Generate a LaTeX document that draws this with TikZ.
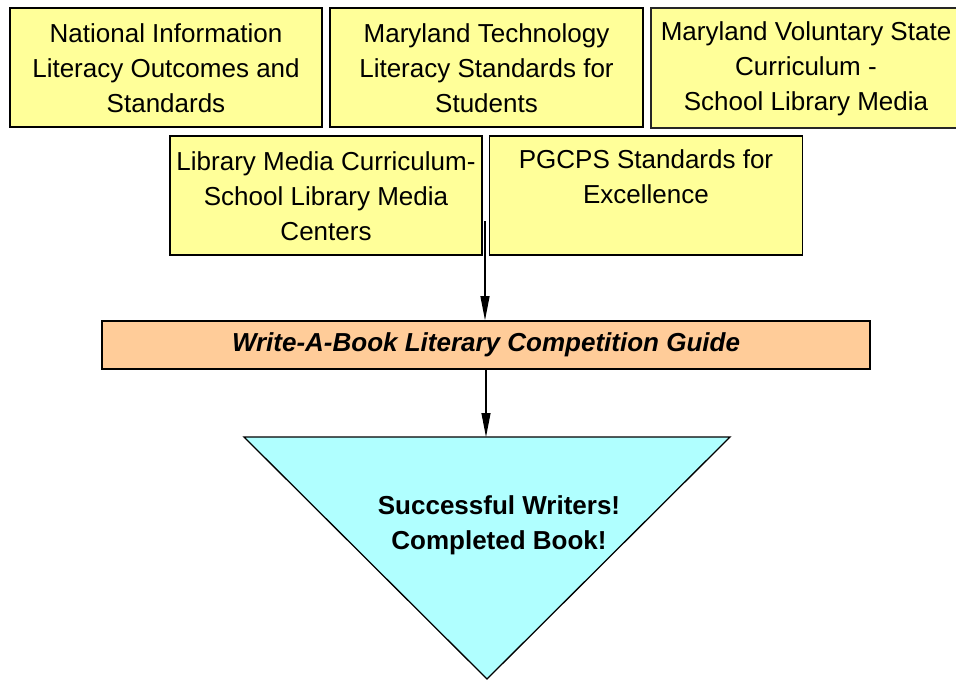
\documentclass[tikz,border=0pt]{standalone}
\usepackage{fontspec}
\setmainfont{Liberation Sans}
\usetikzlibrary{arrows.meta}
\definecolor{paleyellow}{HTML}{FFFF99}
\definecolor{paleorange}{HTML}{FFCC99}
\definecolor{palecyan}{HTML}{B0FFFF}
\begin{document}
\begin{tikzpicture}[x=1pt,y=-1pt,
  stdbox/.style={draw=black,line width=1.6pt,fill=paleyellow,inner sep=0pt,
    minimum width=#1,minimum height=119pt},
  stdtext/.style={align=center,inner sep=0pt,font=\fontsize{26}{35}\selectfont},
  flow/.style={line width=1.1pt,-{Triangle[length=24pt,width=9pt]}}]
\useasboundingbox (0,0) rectangle (956,681);
% source documents, first row
\node[stdbox=312pt] (nat) at (166,67.5) {};
\node[stdtext] at (166,68.5) {National Information\\Literacy Outcomes and\\Standards};
\node[stdbox=313pt] (mdt) at (486.5,67.5) {};
\node[stdtext] at (486.5,68.5) {Maryland Technology\\Literacy Standards for\\Students};
\begin{scope}
  \clip (0,0) rectangle (956,681);
  \node[stdbox=320pt,draw=black!85,line width=1.2pt,minimum height=120pt] (mvs) at (811,68) {};
\end{scope}
\node[stdtext] at (806,69) {Maryland Voluntary State\\Curriculum -\\School Library Media};
% source documents, second row
\node[stdbox=312pt] (lmc) at (326,195.5) {};
\node[stdtext] at (326,196) {Library Media Curriculum-\\School Library Media\\Centers};
\node[stdbox=313pt] (pgc) at (646,195.5) {};
\node[stdtext,anchor=north] at (646,149) {PGCPS Standards for\\Excellence};
% guide and outcome
\node[draw=black,line width=1.6pt,fill=paleorange,minimum width=768pt,minimum height=48pt,inner sep=0pt,
  font=\fontsize{26}{35}\selectfont\bfseries\itshape] (guide) at (486,345) {Write-A-Book Literary Competition Guide};
\draw[line width=1.3pt,fill=palecyan] (244,437) coordinate (tl) -- (730,437) coordinate (tr) -- (487,679) coordinate (tip) -- cycle;
\coordinate (ttop) at (486,437);
\node[align=center,font=\fontsize{26}{35}\selectfont\bfseries,inner sep=0pt] (result) at (499,525) {Successful Writers!\\Completed Book!};
% connectors
\coordinate (src) at (485,221);
\draw[flow] (src) -- (guide.north -| src);
\draw[flow] (guide.south -| ttop) -- (ttop);
\end{tikzpicture}
\end{document}
